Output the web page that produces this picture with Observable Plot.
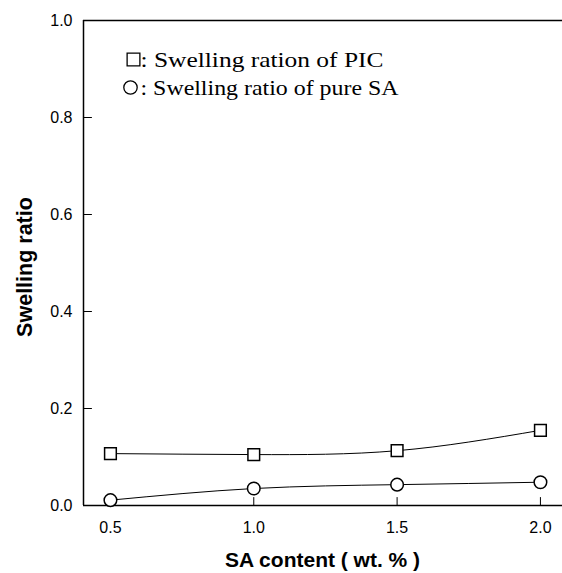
<!DOCTYPE html>
<html>
<head>
<meta charset="utf-8">
<script src="https://cdn.jsdelivr.net/npm/d3@7"></script>
<script src="https://cdn.jsdelivr.net/npm/@observablehq/plot@0.6"></script>
<style>
  html, body { margin: 0; padding: 0; background: #fff; }
  svg { display: block; }
</style>
</head>
<body>
<div id="chart"></div>
<script>
const saContent = [0.5, 1.0, 1.5, 2.0];
const picSwelling = [0.107, 0.105, 0.113, 0.155];
const pureSaSwelling = [0.011, 0.035, 0.043, 0.048];
const xTicks = [0.5, 1.0, 1.5, 2.0];
const yTicks = [0.0, 0.2, 0.4, 0.6, 0.8, 1.0];
const yInnerTicks = [0.2, 0.4, 0.6, 0.8];
const xLabel = "SA content ( wt. % )";
const yLabel = "Swelling ratio";
const legendLabels = [": Swelling ration of PIC", ": Swelling ratio of pure SA"];
const legendSymbols = ["square", "circle"];

const xDomain = [0.406, 2.077];
const yDomain = [0, 1];

const pic = saContent.map((x, i) => ({x, y: picSwelling[i]}));
const pure = saContent.map((x, i) => ({x, y: pureSaSwelling[i]}));

const tickShape = {draw(context, l) { context.moveTo(0, 0); context.lineTo(0, -l); }};
const serif = "'Liberation Serif', 'Times New Roman', serif";

const chart = Plot.plot({
  width: 562,
  height: 573,
  marginLeft: 83,
  marginRight: 0,
  marginTop: 20,
  marginBottom: 68,
  style: {fontFamily: "'Liberation Sans', Arial, sans-serif", background: "#fff", color: "#000"},
  x: {domain: xDomain},
  y: {domain: yDomain},
  marks: [
    Plot.axisY(yTicks, {tickSize: 0, tickPadding: 11, fontSize: 16, tickFormat: d3.format(".1f"), label: null}),
    Plot.axisX(xTicks, {tickSize: 0, tickPadding: 16, fontSize: 16, tickFormat: d3.format(".1f"), label: null}),
    Plot.ruleY([yDomain[0]], {stroke: "#000", strokeWidth: 1.5}),
    Plot.ruleY([yDomain[1]], {stroke: "#000", strokeWidth: 1.5}),
    Plot.ruleX([xDomain[0]], {stroke: "#000", strokeWidth: 1.5}),
    Plot.vector(yInnerTicks, {x: () => xDomain[0], y: d => d, length: 8, rotate: 90, anchor: "start", shape: tickShape, stroke: "#000", strokeWidth: 1}),
    Plot.vector(xTicks, {x: d => d, y: () => yDomain[0], length: 8, rotate: 0, anchor: "start", shape: tickShape, stroke: "#000", strokeWidth: 1}),
    Plot.line(pic, {x: "x", y: "y", curve: "natural", stroke: "#000", strokeWidth: 1}),
    Plot.line(pure, {x: "x", y: "y", curve: "natural", stroke: "#000", strokeWidth: 1}),
    Plot.dot(pic, {x: "x", y: "y", symbol: "square", r: 6.6, fill: "#fff", stroke: "#000", strokeWidth: 1.5}),
    Plot.dot(pure, {x: "x", y: "y", symbol: "circle", r: 6.3, fill: "#fff", stroke: "#000", strokeWidth: 1.5}),
    // legend
    Plot.text([legendLabels[0]], {frameAnchor: "top-left", dx: 57, dy: 46, text: d => d, textAnchor: "start", lineAnchor: "bottom", fontSize: 21, fontFamily: serif, fill: "#000", className: "leg1"}),
    Plot.text([legendLabels[1]], {frameAnchor: "top-left", dx: 57, dy: 74, text: d => d, textAnchor: "start", lineAnchor: "bottom", fontSize: 21, fontFamily: serif, fill: "#000", className: "leg2"}),
    Plot.dot([legendSymbols[0]], {frameAnchor: "top-left", dx: 50, dy: 39, symbol: legendSymbols[0], r: 7.2, fill: "none", stroke: "#000", strokeWidth: 1.3}),
    Plot.dot([legendSymbols[1]], {frameAnchor: "top-left", dx: 47, dy: 67, symbol: legendSymbols[1], r: 6.7, fill: "none", stroke: "#000", strokeWidth: 1.3}),
    // axis titles
    Plot.text([yLabel], {frameAnchor: "left", dx: -52, dy: 4, rotate: -90, text: d => d, textAnchor: "middle", lineAnchor: "bottom", fontSize: 21.5, fontWeight: "bold", fill: "#000"}),
    Plot.text([xLabel], {frameAnchor: "bottom", dx: 322 - (83 + 562) / 2, dy: 61, text: d => d, textAnchor: "middle", lineAnchor: "bottom", fontSize: 21, fontWeight: "bold", fill: "#000"})
  ]
});
const stretch = {leg1: 243, leg2: 258};
for (const [cls, len] of Object.entries(stretch)) {
  chart.querySelectorAll(`.${cls} text`).forEach(t => {
    t.setAttribute("textLength", len);
    t.setAttribute("lengthAdjust", "spacingAndGlyphs");
  });
}
document.getElementById("chart").appendChild(chart);
</script>
</body>
</html>
